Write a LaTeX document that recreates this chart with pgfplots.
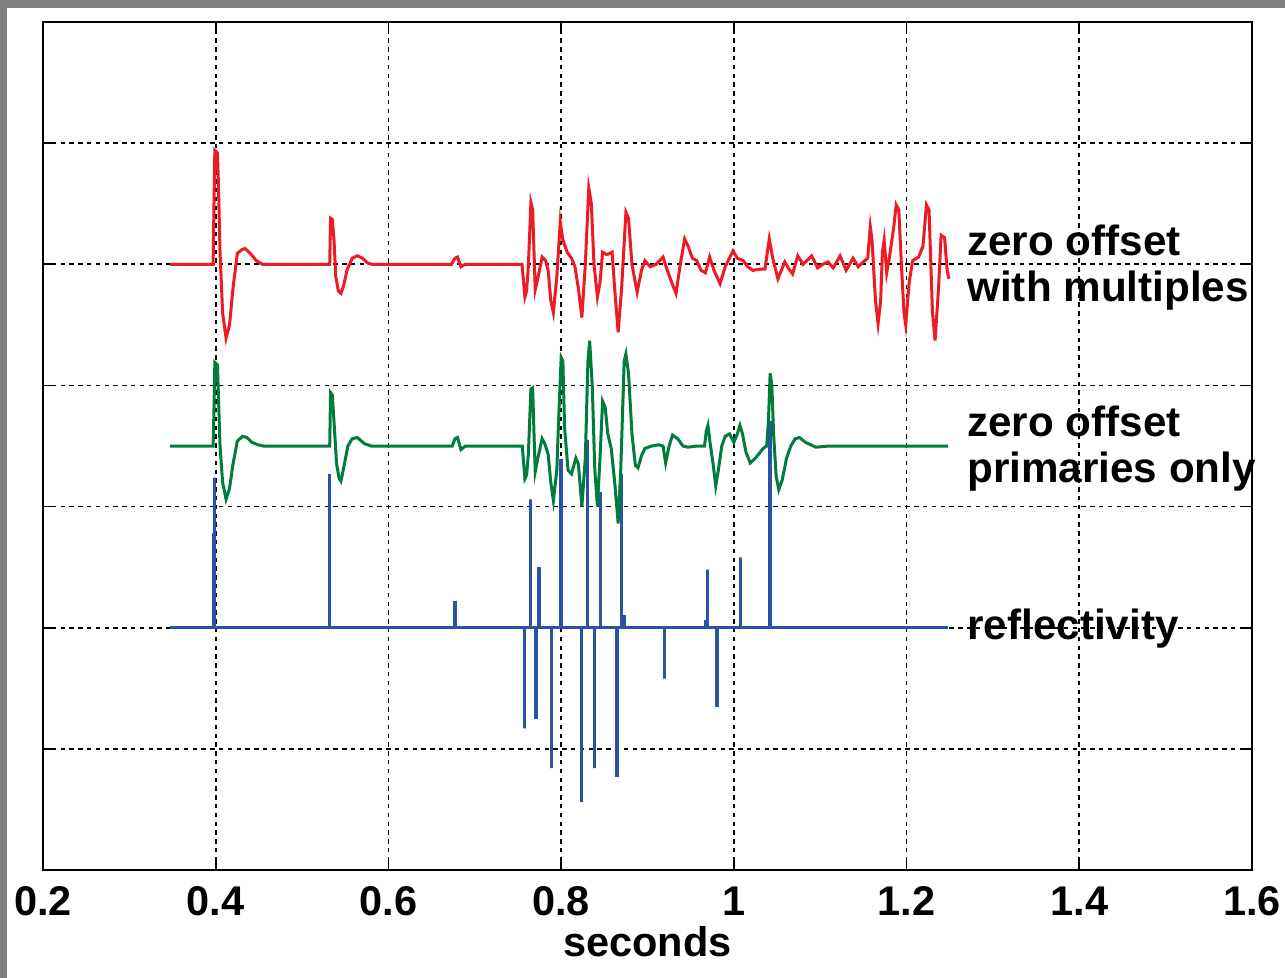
\documentclass[border=0pt]{standalone}
\usepackage{pgfplots}
\pgfplotsset{compat=1.18}
\usepackage{fontspec}
\setmainfont{Liberation Sans}
\definecolor{tred}{RGB}{237,28,36}
\definecolor{tgreen}{RGB}{0,125,60}
\definecolor{tblue}{RGB}{41,84,166}
\definecolor{graybg}{RGB}{128,128,128}
\newcommand{\lblfont}{\fontsize{20.75bp}{23bp}\selectfont\bfseries}
\newcommand{\txtfont}{\fontsize{21.1bp}{23bp}\selectfont\bfseries}
\begin{document}
\begin{tikzpicture}
\fill[graybg] (0,0) rectangle (642.5bp,489bp);
\fill[white] (3.5bp,0) rectangle (642.5bp,485bp);
\path[use as bounding box] (0,0) rectangle (642.5bp,489bp);
\begin{axis}[
  at={(21.5bp,54bp)}, anchor=south west, scale only axis,
  width=604.5bp, height=424bp,
  xmin=0.2, xmax=1.6, ymin=0, ymax=7,
  xtick={0.2,0.4,0.6,0.8,1,1.2,1.4,1.6},
  xticklabels={0.2,0.4,0.6,0.8,1,1.2,1.4,1.6},
  ytick={1,2,3,4,5,6}, yticklabels={},
  grid=major,
  grid style={black, line width=0.8bp, dash pattern=on 2.2bp off 2.2bp},
  axis line style={black, line width=0.9bp},
  major tick length=6bp,
  tick style={black, line width=0.9bp},
  tick align=inside,
  xtick pos=both, ytick pos=both,
  xticklabel style={font=\lblfont, anchor=base, yshift=-22.5bp},
  xlabel={seconds},
  xlabel style={font=\lblfont, at={(axis description cs:0.5,0)}, anchor=base, yshift=-43bp},
  clip=false,
]
% reflectivity (baseline 2)
\addplot[tblue, line width=1.5bp, line join=miter] coordinates {
(0.347,2)(0.397,2)(0.397,2.78)(0.397,2)(0.399,2)(0.399,3.24)(0.399,2)
(0.532,2)(0.532,3.27)(0.532,2)
(0.677,2)(0.677,2.21)(0.678,2.21)(0.678,2)
(0.757,2)(0.757,1.17)(0.757,2)
(0.765,2)(0.765,3.06)(0.765,2)
(0.770,2)(0.770,1.26)(0.771,1.26)(0.771,2)
(0.774,2)(0.774,2.49)(0.775,2.49)(0.775,2)
(0.789,2)(0.789,0.84)(0.789,2)
(0.799,2)(0.799,3.38)(0.800,3.38)(0.800,2)
(0.823,2)(0.823,0.57)(0.824,0.57)(0.824,2)
(0.831,2)(0.831,3.55)(0.831,2)
(0.839,2)(0.839,0.84)(0.839,2)
(0.846,2)(0.846,3.12)(0.846,2)
(0.864,2)(0.864,0.78)(0.865,0.78)(0.865,2)
(0.870,2)(0.870,3.27)(0.870,2)(0.872,2)(0.872,2.09)(0.873,2.09)(0.873,2)
(0.920,2)(0.920,1.58)(0.920,2)
(0.967,2)(0.967,2.05)(0.969,2.05)(0.969,2.48)(0.969,2)
(0.980,2)(0.980,1.36)(0.981,1.36)(0.981,2)
(1.008,2)(1.008,2.58)(1.008,2)
(1.041,2)(1.041,3.69)(1.042,3.69)(1.042,2)
(1.248,2)
};
% primaries only (baseline 3.5)
\addplot[tgreen, line width=1.5bp] coordinates {
(0.347,3.5)(0.397,3.5)(0.398,3.8)(0.399,4.19)(0.402,4.17)(0.403,3.95)(0.405,3.5)(0.408,3.2)(0.412,3.06)(0.416,3.15)(0.420,3.35)(0.425,3.54)(0.431,3.58)(0.436,3.57)(0.442,3.53)(0.449,3.51)(0.455,3.5)
(0.532,3.5)(0.533,3.94)(0.535,3.92)(0.537,3.7)(0.540,3.35)(0.543,3.23)(0.545,3.21)(0.549,3.35)(0.553,3.5)(0.558,3.56)(0.564,3.57)(0.572,3.52)(0.580,3.5)
(0.674,3.5)(0.677,3.56)(0.680,3.57)(0.684,3.47)(0.689,3.5)
(0.755,3.5)(0.758,3.23)(0.760,3.26)(0.762,3.43)(0.765,3.97)(0.767,3.98)(0.769,3.5)(0.770,3.29)(0.773,3.4)(0.778,3.56)(0.781,3.52)(0.785,3.43)(0.788,3.2)(0.791,3.05)(0.795,3.3)(0.797,3.7)(0.800,4.23)(0.802,4.2)(0.804,3.65)(0.808,3.3)(0.812,3.27)(0.817,3.40)(0.820,3.35)(0.824,3.0)(0.828,3.4)(0.831,4.2)(0.833,4.37)(0.836,4.0)(0.839,3.3)(0.842,3.0)(0.845,3.4)(0.848,3.87)(0.851,3.82)(0.854,3.6)(0.858,3.48)(0.862,3.2)(0.866,2.86)(0.869,3.3)(0.873,4.2)(0.875,4.26)(0.878,4.1)(0.882,3.6)(0.886,3.34)(0.889,3.32)(0.893,3.42)(0.897,3.48)(0.905,3.5)(0.913,3.51)(0.918,3.5)(0.921,3.36)(0.925,3.5)(0.929,3.59)(0.935,3.56)(0.941,3.5)(0.947,3.49)(0.957,3.5)(0.966,3.5)(0.968,3.62)(0.970,3.67)(0.972,3.55)(0.976,3.35)(0.979,3.17)(0.982,3.3)(0.986,3.5)(0.990,3.58)(0.995,3.6)(1.000,3.53)(1.004,3.6)(1.007,3.67)(1.010,3.6)(1.014,3.45)(1.019,3.36)(1.025,3.4)(1.034,3.48)(1.038,3.5)(1.040,3.7)(1.042,4.10)(1.044,4.0)(1.046,3.6)(1.049,3.25)(1.052,3.14)(1.056,3.22)(1.061,3.4)(1.066,3.5)(1.071,3.56)(1.076,3.57)(1.083,3.53)(1.095,3.49)(1.110,3.5)(1.130,3.5)(1.160,3.5)(1.248,3.5)
};
% with multiples (baseline 5)
\addplot[tred, line width=1.5bp] coordinates {
(0.347,5)(0.397,5)(0.398,5.5)(0.399,5.94)(0.402,5.92)(0.403,5.7)(0.405,5.1)(0.408,4.6)(0.412,4.39)(0.416,4.5)(0.420,4.8)(0.425,5.09)(0.430,5.12)(0.434,5.13)(0.440,5.09)(0.447,5.03)(0.454,5.0)
(0.532,5)(0.533,5.38)(0.535,5.37)(0.537,5.2)(0.539,4.9)(0.542,4.78)(0.545,4.76)(0.548,4.82)(0.552,4.95)(0.558,5.05)(0.564,5.07)(0.570,5.05)(0.576,5.01)(0.581,5.0)
(0.673,5)(0.677,5.05)(0.680,5.06)(0.684,4.98)(0.689,5.0)
(0.7547,5.0)(0.758,4.73)(0.760,4.78)(0.762,4.98)(0.765,5.51)(0.767,5.45)(0.770,4.79)(0.772,4.85)(0.778,5.06)(0.782,5.03)(0.785,4.95)(0.788,4.70)(0.791,4.60)(0.795,4.9)(0.799,5.35)(0.802,5.2)(0.807,5.10)(0.812,5.05)(0.816,4.98)(0.820,4.8)(0.824,4.56)(0.828,5.0)(0.832,5.63)(0.835,5.5)(0.838,5.0)(0.842,4.73)(0.845,4.85)(0.848,5.10)(0.853,5.08)(0.859,5.10)(0.862,4.8)(0.866,4.44)(0.870,4.8)(0.875,5.43)(0.878,5.38)(0.882,5.0)(0.888,4.77)(0.893,4.95)(0.897,5.03)(0.903,4.98)(0.910,5.0)(0.918,5.06)(0.922,4.97)(0.928,4.85)(0.933,4.76)(0.938,5.0)(0.943,5.21)(0.947,5.15)(0.952,5.05)(0.957,5.03)(0.962,4.95)(0.967,4.93)(0.972,5.06)(0.977,4.95)(0.984,4.84)(0.990,4.98)(0.999,5.11)(1.004,5.05)(1.011,5.03)(1.016,4.98)(1.022,4.95)(1.030,4.96)(1.036,4.96)(1.041,5.21)(1.045,5.05)(1.051,4.88)(1.055,4.95)(1.059,5.02)(1.063,4.97)(1.068,4.92)(1.074,5.07)(1.080,5.0)(1.086,5.04)(1.090,5.07)(1.095,5.0)(1.097,4.97)(1.103,5.0)(1.109,5.02)(1.115,4.97)(1.123,5.07)(1.130,4.95)(1.138,5.05)(1.144,4.98)(1.150,5.02)(1.155,5.05)(1.158,5.31)(1.160,5.2)(1.164,4.7)(1.167,4.51)(1.170,4.7)(1.172,5.1)(1.174,5.2)(1.177,4.93)(1.180,5.05)(1.185,5.3)(1.188,5.49)(1.191,5.45)(1.194,5.0)(1.197,4.6)(1.199,4.5)(1.203,4.85)(1.207,5.03)(1.214,5.06)(1.219,5.15)(1.223,5.49)(1.226,5.45)(1.230,4.6)(1.233,4.37)(1.237,4.8)(1.240,5.24)(1.244,5.22)(1.247,4.95)(1.249,4.88)
};
\node[anchor=west, inner sep=0pt, align=left, font=\txtfont, yshift=-1.5bp] at (axis cs:1.27,5) {zero offset\\with multiples};
\node[anchor=west, inner sep=0pt, align=left, font=\txtfont, yshift=-1.5bp] at (axis cs:1.27,3.5) {zero offset\\primaries only};
\node[anchor=west, inner sep=0pt, font=\txtfont, yshift=-0.5bp] at (axis cs:1.27,2) {reflectivity};
\end{axis}
\end{tikzpicture}
\end{document}
